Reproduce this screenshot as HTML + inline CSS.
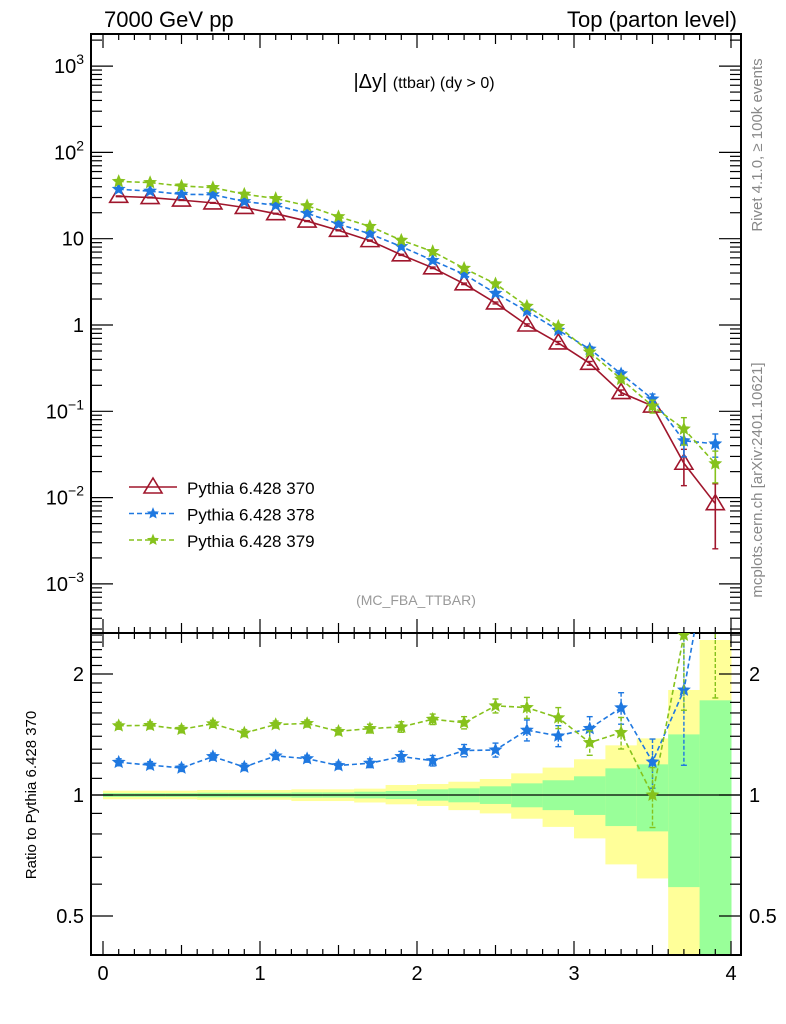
<!DOCTYPE html>
<html><head><meta charset="utf-8">
<style>
body{margin:0;background:#fff;}
svg{display:block;font-family:"Liberation Sans",sans-serif;}
</style></head>
<body>
<svg id="c" width="786" height="1024" viewBox="0 0 786 1024">
<text x="104" y="27" font-size="22">7000 GeV pp</text>
<text x="737" y="27" font-size="22" text-anchor="end">Top (parton level)</text>
<text x="424" y="88" font-size="20" text-anchor="middle">|Δy| <tspan font-size="16">(ttbar) (dy &gt; 0)</tspan></text>
<text x="416" y="605" font-size="14" fill="#999" text-anchor="middle">(MC_FBA_TTBAR)</text>
<text transform="translate(762,145) rotate(-90)" font-size="15" fill="#888" text-anchor="middle">Rivet 4.1.0, ≥ 100k events</text>
<text transform="translate(762,480) rotate(-90)" font-size="15" fill="#888" text-anchor="middle">mcplots.cern.ch [arXiv:2401.10621]</text>
<text transform="translate(36,795) rotate(-90)" font-size="15" text-anchor="middle">Ratio to Pythia 6.428 370</text>
<g id="g"></g>
</svg>
<script>
const xCenters=[0.1,0.3,0.5,0.7,0.9,1.1,1.3,1.5,1.7,1.9,2.1,2.3,2.5,2.7,2.9,3.1,3.3,3.5,3.7,3.9];
const red=[31,30,28,26,23,19.5,16,12.5,9.5,6.5,4.6,3.0,1.8,1.0,0.62,0.36,0.165,0.115,0.025,0.0085];
const blue=[37.4,35.6,32.7,32.4,27.0,24.4,19.7,14.8,11.4,8.1,5.6,3.87,2.33,1.45,0.87,0.527,0.272,0.139,0.0456,0.042];
const green=[46.1,44.7,40.8,39.1,32.8,29.2,24.1,18.0,13.9,9.6,7.1,4.54,3.0,1.65,0.965,0.486,0.236,0.115,0.0625,0.0247];
const redErr=[0.01,0.01,0.01,0.01,0.01,0.01,0.012,0.012,0.015,0.015,0.02,0.02,0.025,0.03,0.04,0.05,0.07,0.08,0.45,0.7];
const blueErr=[0.02,0.02,0.02,0.02,0.02,0.02,0.02,0.02,0.025,0.03,0.03,0.035,0.04,0.06,0.06,0.07,0.09,0.14,0.35,0.3];
const greenErr=[0.02,0.02,0.02,0.02,0.02,0.02,0.02,0.02,0.025,0.03,0.03,0.035,0.04,0.06,0.06,0.07,0.09,0.17,0.35,0.4];
const yelUp=[1.025,1.025,1.025,1.029,1.029,1.029,1.033,1.033,1.037,1.059,1.065,1.079,1.096,1.132,1.170,1.227,1.329,1.383,1.825,2.43];
const yelLo=[0.976,0.976,0.976,0.973,0.973,0.973,0.966,0.966,0.958,0.948,0.939,0.917,0.900,0.873,0.833,0.780,0.672,0.620,0.3,0.3];
const grnUp=[1.011,1.011,1.011,1.013,1.013,1.013,1.015,1.015,1.019,1.023,1.033,1.039,1.051,1.069,1.088,1.113,1.165,1.192,1.415,1.720];
const grnLo=[0.989,0.989,0.989,0.987,0.987,0.987,0.985,0.985,0.981,0.977,0.968,0.959,0.950,0.932,0.917,0.892,0.837,0.812,0.590,0.3];
const xTicks=[0,1,2,3,4];
const mainTickExp=[-3,-2,-1,0,1,2,3];
const mainTickLabels=["10","10","10","1","10","10","10"];
const mainTickSup=["−3","−2","−1","","","2","3"];
const ratioTicks=[0.5,1,2];

const NS="http://www.w3.org/2000/svg";
const G=document.getElementById('g');
const L=91,R=741,T=34,MB=633,RB=955;
const X=v=>103+157*v;
const Y=v=>325-86.3*Math.log10(v);
const RY=v=>795-121*Math.log2(v);
function mk(tag,at,parent){const e=document.createElementNS(NS,tag);for(const k in at)e.setAttribute(k,at[k]);(parent||G).appendChild(e);return e;}
const cm=mk('clipPath',{id:'cm'});mk('rect',{x:L,y:T,width:R-L,height:MB-T},cm);
const cr=mk('clipPath',{id:'cr'});mk('rect',{x:L,y:MB,width:R-L,height:RB-MB},cr);

const bandG=mk('g',{'clip-path':'url(#cr)'});


xCenters.forEach((c,i)=>{
  const x0=X(c-0.1),w=X(c+0.1)-x0;
  const yb=mk('rect',{x:x0,y:RY(yelUp[i]),width:w+0.5,height:RY(yelLo[i])-RY(yelUp[i]),fill:'#ffff99'},bandG);
  
  
  const gb=mk('rect',{x:x0,y:RY(grnUp[i]),width:w+0.5,height:RY(grnLo[i])-RY(grnUp[i]),fill:'#99ff99'},bandG);
  
  
});
mk('line',{x1:L,x2:R,y1:RY(1),y2:RY(1),stroke:'#000','stroke-width':1.3});

const f1=mk('rect',{x:L,y:T,width:R-L,height:MB-T,fill:'none',stroke:'#000','stroke-width':2});


const f2=mk('rect',{x:L,y:MB,width:R-L,height:RB-MB,fill:'none',stroke:'#000','stroke-width':2});



for(let k=0;k<=40;k++){
  const v=k/10,x=X(v);if(x>R)break;
  const len=(k%10==0)?14:(k%5==0?10:6);
  [[T,1],[MB,-1],[MB,1],[RB,-1]].forEach(([y0,d])=>mk('line',{x1:x,x2:x,y1:y0,y2:y0+d*len,stroke:'#000','stroke-width':1.2}));
}
xTicks.forEach(v=>{const t=mk('text',{x:X(v),y:980,'font-size':20,'text-anchor':'middle'});t.textContent=v;

});

for(let e=-4;e<=3;e++){
  for(let m=1;m<10;m++){
    const v=m*Math.pow(10,e),y=Y(v);if(y<T||y>MB)continue;
    const len=m==1?22:11;
    mk('line',{x1:L,x2:L+len,y1:y,y2:y,stroke:'#000','stroke-width':1.2});
    mk('line',{x1:R,x2:R-len,y1:y,y2:y,stroke:'#000','stroke-width':1.2});
  }
}
mainTickExp.forEach((e,i)=>{
  const t=mk('text',{x:84,y:Y(Math.pow(10,e))+7,'font-size':20,'text-anchor':'end'});
  
  
  t.textContent=mainTickLabels[i];
  if(mainTickSup[i]){const s=mk('tspan',{'font-size':14,dy:-9},t);s.textContent=mainTickSup[i];}
});
[0.4,0.5,0.6,0.7,0.8,0.9,1,1.1,1.2,1.3,1.4,1.5,1.6,1.7,1.8,1.9,2,2.1,2.2,2.3,2.4,2.5].forEach(v=>{
  const y=RY(v);if(y<MB||y>RB)return;
  const len=(v==0.5||v==1||v==2)?22:11;
  mk('line',{x1:L,x2:L+len,y1:y,y2:y,stroke:'#000','stroke-width':1.2});
  mk('line',{x1:R,x2:R-len,y1:y,y2:y,stroke:'#000','stroke-width':1.2});
});
ratioTicks.forEach(v=>{
  const t1=mk('text',{x:84,y:RY(v)+7,'font-size':20,'text-anchor':'end'});t1.textContent=v;
  
  
  const t2=mk('text',{x:749,y:RY(v)+7,'font-size':20});t2.textContent=v;
  
  
});

function star(g,x,y,r,col){
  let p=[];for(let k=0;k<10;k++){const a=-Math.PI/2+k*Math.PI/5,rr=k%2?r*0.45:r;p.push((x+rr*Math.cos(a)).toFixed(1)+','+(y+rr*Math.sin(a)).toFixed(1));}
  return mk('polygon',{points:p.join(' '),fill:col,stroke:col,'stroke-width':1},g);
}
function tri(g,x,y,col){
  return mk('polygon',{points:`${x},${y-9} ${x-9},${y+6} ${x+9},${y+6}`,fill:'none',stroke:col,'stroke-width':1.6},g);
}
function series(vals,errs,col,dash,kind,name,ratioVals){
  const g=mk('g',{'clip-path':'url(#cm)'});
  
  
  mk('polyline',{points:xCenters.map((c,i)=>X(c)+','+Y(vals[i])).join(' '),fill:'none',stroke:col,'stroke-width':1.6,'stroke-dasharray':dash||''},g);
  xCenters.forEach((c,i)=>{
    const x=X(c),hi=Y(vals[i]*(1+errs[i])),lo=Y(vals[i]*Math.max(1-errs[i],0.01));
    mk('line',{x1:x,x2:x,y1:hi,y2:lo,stroke:col,'stroke-width':1.6},g);
    mk('line',{x1:x-3,x2:x+3,y1:hi,y2:hi,stroke:col,'stroke-width':1.4},g);
    mk('line',{x1:x-3,x2:x+3,y1:lo,y2:lo,stroke:col,'stroke-width':1.4},g);
    const m=kind=='tri'?tri(g,x,Y(vals[i]),col):star(g,x,Y(vals[i]),6,col);
    
    
  });
  if(!ratioVals)return;
  const rg=mk('g',{'clip-path':'url(#cr)'});
  
  
  mk('polyline',{points:xCenters.map((c,i)=>X(c)+','+RY(ratioVals[i])).join(' '),fill:'none',stroke:col,'stroke-width':1.6,'stroke-dasharray':dash},rg);
  xCenters.forEach((c,i)=>{
    const x=X(c),r=ratioVals[i],hi=RY(r*(1+errs[i])),lo=RY(r*(1-errs[i]));
    mk('line',{x1:x,x2:x,y1:hi,y2:lo,stroke:col,'stroke-width':1.4,'stroke-dasharray':'4,2'},rg);
    mk('line',{x1:x-3,x2:x+3,y1:hi,y2:hi,stroke:col,'stroke-width':1.4},rg);
    mk('line',{x1:x-3,x2:x+3,y1:lo,y2:lo,stroke:col,'stroke-width':1.4},rg);
    const m=star(rg,x,RY(r),6,col);
    
    
  });
}
const RED='#a0162c',BLUE='#1f78e0',GRN='#86c21c';
series(red,redErr,RED,'','tri','pythia-370',null);
series(blue,blueErr,BLUE,'5,3','star','pythia-378',blue.map((v,i)=>v/red[i]));
series(green,greenErr,GRN,'5,3','star','pythia-379',green.map((v,i)=>v/red[i]));

const leg=[['Pythia 6.428 370',RED,'','tri'],['Pythia 6.428 378',BLUE,'5,3','star'],['Pythia 6.428 379',GRN,'5,3','star']];
leg.forEach((l,i)=>{
  const y=487+i*26.5,lg=mk('g',{});
  
  
  mk('line',{x1:129,x2:177,y1:y,y2:y,stroke:l[1],'stroke-width':1.6,'stroke-dasharray':l[2]},lg);
  if(l[3]=='tri')tri(lg,153,y,l[1]);else star(lg,153,y,5,l[1]);
  const t=mk('text',{x:187,y:y+7,'font-size':17},lg);t.textContent=l[0];
});
</script>
</body></html>
